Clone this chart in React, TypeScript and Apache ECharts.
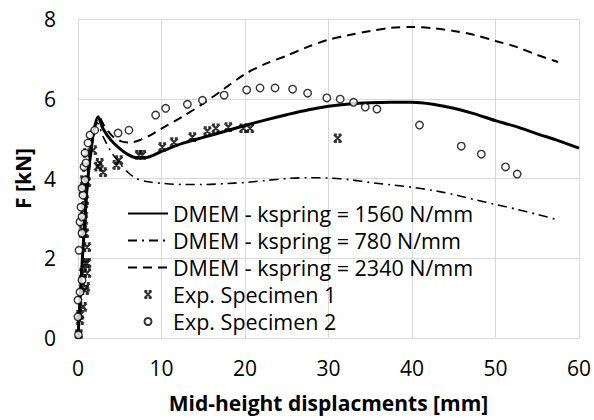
import React, { useEffect, useRef } from "react";
import * as echarts from "echarts";

const xTicks = [0, 10, 20, 30, 40, 50, 60];
const yTicks = [0, 2, 4, 6, 8];

const seriesNames = [
  "DMEM - kspring = 1560 N/mm",
  "DMEM - kspring = 780 N/mm",
  "DMEM - kspring = 2340 N/mm",
  "Exp. Specimen 1",
  "Exp. Specimen 2",
];

const dmem1560: [number, number][] = [
  [0, 0], [0.2, 0.8], [0.5, 1.9], [0.8, 2.9], [1.1, 3.8], [1.5, 4.6], [1.9, 5.2], [2.4, 5.55],
  [3.0, 5.25], [4.0, 4.95], [5, 4.75], [6, 4.6], [7, 4.52], [8, 4.52], [10, 4.68], [12.5, 4.88],
  [15, 5.03], [17.5, 5.18], [20, 5.33], [22.5, 5.47], [25, 5.6], [27.5, 5.72], [30, 5.81],
  [32.5, 5.87], [35, 5.9], [37.5, 5.91], [40, 5.91], [42.5, 5.86], [45, 5.76], [47.5, 5.62],
  [50, 5.45], [52.5, 5.3], [55, 5.12], [57.5, 4.95], [60, 4.76],
];

const dmem780: [number, number][] = [
  [0, 0], [0.2, 0.75], [0.5, 1.8], [0.8, 2.8], [1.1, 3.7], [1.5, 4.5], [1.9, 5.1], [2.3, 5.4],
  [3.0, 5.05], [4.0, 4.66], [5, 4.38], [6, 4.15], [7, 4.0], [8, 3.93], [10, 3.88], [12.5, 3.85],
  [15, 3.85], [17.5, 3.87], [20, 3.9], [22.5, 3.95], [25, 4.0], [27.5, 4.02], [30, 4.01],
  [32.5, 3.97], [35, 3.9], [37.5, 3.84], [40, 3.78], [42.5, 3.7], [45, 3.6], [47.5, 3.47],
  [50, 3.35], [52.5, 3.23], [55, 3.1], [57.5, 2.96],
];

const dmem2340: [number, number][] = [
  [0, 0], [0.2, 0.8], [0.5, 1.9], [0.8, 2.9], [1.1, 3.8], [1.5, 4.6], [1.9, 5.2], [2.5, 5.55],
  [3.2, 5.3], [4.2, 5.05], [5.2, 4.93], [6.2, 4.9], [7.5, 4.97], [8.7, 5.09], [10, 5.25],
  [12.5, 5.55], [15, 5.88], [17.5, 6.25], [20, 6.62], [22.5, 6.88], [25, 7.08], [27.5, 7.3],
  [30, 7.48], [32.5, 7.6], [35, 7.7], [37.5, 7.78], [40, 7.8], [42.5, 7.77], [45, 7.7],
  [47.5, 7.6], [50, 7.45], [52.5, 7.3], [55, 7.1], [57.5, 6.92],
];

const specimen1: [number, number][] = [
  [0.1, 0.1], [0.24, 0.45], [0.24, 0.58], [0.6, 0.78], [0.84, 1.2], [0.96, 1.28], [1.1, 1.63],
  [0.6, 1.63], [0.84, 1.88], [1.1, 1.88], [1.08, 2.28], [0.6, 2.63], [0.84, 2.63], [0.6, 2.88],
  [0.72, 2.96], [0.72, 3.21], [0.84, 3.46], [0.6, 3.71], [0.72, 3.96], [1.08, 3.91], [0.96, 4.29],
  [1.08, 4.64], [1.8, 4.71], [2.6, 4.39], [3.0, 4.16], [2.4, 4.3], [4.6, 4.34], [4.9, 4.46],
  [7.3, 4.59], [7.7, 4.59], [10.1, 4.79], [11.5, 4.91], [13.7, 5.04], [15.5, 5.19], [16.5, 5.26],
  [18, 5.29], [19.8, 5.26], [20.6, 5.26], [31.1, 5.01],
];

const specimen2: [number, number][] = [
  [0.05, 0.08], [0.0, 0.53], [0.0, 0.95], [0.24, 1.15], [0.48, 1.45], [0.12, 2.2], [0.48, 2.63],
  [0.24, 2.91], [0.48, 3.04], [0.36, 3.28], [0.6, 3.58], [0.48, 3.76], [0.84, 3.96], [0.72, 4.29],
  [0.96, 4.39], [0.84, 4.64], [1.2, 4.89], [1.44, 5.09], [2.0, 5.21], [4.8, 5.14], [6.1, 5.21],
  [9.3, 5.59], [10.5, 5.76], [13.1, 5.86], [14.9, 5.96], [17.5, 6.09], [20.2, 6.22], [21.8, 6.27],
  [23.6, 6.27], [25.7, 6.24], [27.5, 6.14], [29.8, 6.02], [31.4, 5.99], [33, 5.91], [34.4, 5.79],
  [35.8, 5.74], [40.9, 5.34], [45.9, 4.81], [48.3, 4.61], [51.2, 4.29], [52.6, 4.11],
];

const FONT = "Open Sans";
const xMarker =
  "path://M0,0L10,10M10,0L0,10M0,0L4,0M6,0L10,0M0,10L4,10M6,10L10,10";

export default function App() {
  const ref = useRef<HTMLDivElement>(null);
  useEffect(() => {
    if (!ref.current) return;
    const chart = echarts.init(ref.current, undefined, { renderer: "svg" });
    chart.setOption({
      animation: false,
      backgroundColor: "#fff",
      grid: { left: 78, right: 15, top: 19, bottom: 82 },
      legend: {
        orient: "vertical",
        left: 122,
        top: 195,
        itemWidth: 40,
        itemHeight: 7,
        itemGap: 0,
        data: seriesNames.map((n, i) =>
          i < 3 ? { name: n, itemStyle: { opacity: 0 } } : { name: n }
        ),
        textStyle: { fontFamily: FONT, fontSize: 21.5, color: "#000", lineHeight: 27 },
        backgroundColor: "transparent",
      },
      xAxis: {
        type: "value",
        min: 0,
        max: 60,
        interval: 10,
        name: "Mid-height displacments [mm]",
        nameLocation: "middle",
        nameGap: 54,
        nameTextStyle: { fontFamily: FONT, fontSize: 21, fontWeight: "bold", color: "#000" },
        axisLine: { show: true, lineStyle: { color: "#d9d9d9", width: 1 } },
        axisTick: { show: false },
        axisLabel: {
          margin: 19,
          fontFamily: FONT,
          fontSize: 21,
          color: "#000",
          formatter: (v: number) => (xTicks.includes(v) ? String(v) : ""),
        },
        splitLine: { show: true, lineStyle: { color: "#d9d9d9", width: 1 } },
      },
      yAxis: {
        type: "value",
        min: 0,
        max: 8,
        interval: 2,
        name: "F [kN]",
        nameLocation: "middle",
        nameGap: 44,
        nameTextStyle: { fontFamily: FONT, fontSize: 21, fontWeight: "bold", color: "#000" },
        axisLine: { show: true, lineStyle: { color: "#d9d9d9", width: 1 } },
        axisTick: { show: false },
        axisLabel: {
          margin: 22,
          fontFamily: FONT,
          fontSize: 21,
          color: "#000",
          formatter: (v: number) => (yTicks.includes(v) ? String(v) : ""),
        },
        splitLine: { show: true, lineStyle: { color: "#d9d9d9", width: 1 } },
      },
      series: [
        {
          name: seriesNames[0],
          type: "line",
          data: dmem1560,
          symbol: "none",
          smooth: 0.3,
          lineStyle: { color: "#000", width: 3 },
          itemStyle: { color: "#000" },
          z: 5,
        },
        {
          name: seriesNames[1],
          type: "line",
          data: dmem780,
          symbol: "none",
          smooth: 0.3,
          lineStyle: { color: "#000", width: 1.6, type: [9, 5, 2, 5] },
          itemStyle: { color: "#000" },
          z: 4,
        },
        {
          name: seriesNames[2],
          type: "line",
          data: dmem2340,
          symbol: "none",
          smooth: 0.3,
          lineStyle: { color: "#000", width: 2, type: [9, 6] },
          itemStyle: { color: "#000" },
          z: 4,
        },
        {
          name: seriesNames[3],
          type: "scatter",
          data: specimen1,
          symbol: xMarker,
          symbolSize: 7.5,
          clip: false,
          itemStyle: { color: "none", borderColor: "#000", borderWidth: 2.2 },
          z: 6,
        },
        {
          name: seriesNames[4],
          type: "scatter",
          data: specimen2,
          symbol: "circle",
          symbolSize: 7.5,
          clip: false,
          itemStyle: { color: "#fff", borderColor: "#000", borderWidth: 1.4 },
          z: 6,
        },
      ],
    });
    return () => chart.dispose();
  }, []);
  return <div ref={ref} style={{ width: 594, height: 420, position: "absolute", left: 0, top: 0 }} />;
}
